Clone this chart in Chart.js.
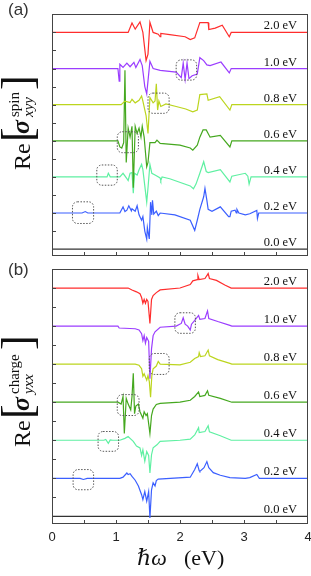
<!DOCTYPE html>
<html><head><meta charset="utf-8">
<script src="https://cdn.jsdelivr.net/npm/chart.js@4.4.0/dist/chart.umd.min.js"></script>
<style>
html,body{margin:0;padding:0;background:#fff;}
body{width:311px;height:576px;position:relative;overflow:hidden;}
canvas{position:absolute;left:0;}
#ca{top:0;}
#cb{top:262px;}
.pl{position:absolute;left:8px;font-family:'Liberation Sans',Arial,sans-serif;font-size:17px;line-height:1;color:#333;}
.yl{position:absolute;left:0;width:110px;height:44px;transform-origin:0 0;transform:rotate(-90deg);font-family:'Liberation Serif','DejaVu Serif',serif;color:#111;}
.yl span{position:absolute;line-height:1;white-space:nowrap;}
.xt{position:absolute;font-family:'Liberation Serif','DejaVu Serif',serif;font-size:22px;line-height:1;color:#111;white-space:nowrap;}
</style></head><body>
<canvas id="ca" width="311" height="262"></canvas>
<canvas id="cb" width="311" height="314"></canvas>
<div class="pl" style="top:1px">(a)</div>
<div class="pl" style="top:261px">(b)</div>
<div class="yl" style="top:170px">
  <span style="left:0;top:10px;font-size:24px">Re</span>
  <span style="left:28px;top:-4.4px;font-size:44px">[</span>
  <span style="left:36px;top:8px;font-size:26px;font-style:italic;font-weight:bold">σ</span>
  <span style="left:53px;top:7.4px;font-size:15px">spin</span>
  <span style="left:53px;top:21.4px;font-size:15px;font-style:italic">xyy</span>
  <span style="left:80px;top:-4.4px;font-size:44px">]</span>
</div>
<div class="yl" style="top:447px">
  <span style="left:0;top:10px;font-size:24px">Re</span>
  <span style="left:28px;top:-4.4px;font-size:44px">[</span>
  <span style="left:36px;top:8px;font-size:26px;font-style:italic;font-weight:bold">σ</span>
  <span style="left:53px;top:7.4px;font-size:15px">charge</span>
  <span style="left:53px;top:21.4px;font-size:15px;font-style:italic">yxx</span>
  <span style="left:97px;top:-4.4px;font-size:44px">]</span>
</div>
<div class="xt" style="left:137px;top:546.5px;font-style:italic">ℏω</div>
<div class="xt" style="left:184px;top:546.5px">(eV)</div>
<script>
// ---------- DATA ----------
const energyLabels = ['2.0 eV','1.0 eV','0.8 eV','0.6 eV','0.4 eV','0.2 eV','0.0 eV'];
const xTickValues = [0,1,2,3,4];

// Panel (a): Re sigma^spin_xyy, deviation from each curve's own baseline
const spin20 = [[0,0],[1.19,0],[1.25,0.26],[1.30,0.09],[1.375,0.29],[1.42,0],[1.47,-0.78],[1.5,-0.6],[1.53,0.28],[1.58,0],[1.66,-0.05],[1.69,-0.12],[1.70,-0.03],[1.84,-0.06],[2.08,-0.12],[2.16,-0.2],[2.23,-0.15],[2.31,0.27],[2.44,0.27],[2.45,0.08],[2.55,0.12],[2.66,0.2],[2.77,-0.12],[2.8,0],[4,0]];
const spin10 = [[0,0],[1.03,0],[1.05,-0.35],[1.06,0.12],[1.11,0.03],[1.17,0.15],[1.22,0.05],[1.28,0.17],[1.31,0.03],[1.375,0.25],[1.41,0.08],[1.45,-0.5],[1.48,-0.7],[1.53,0.2],[1.58,0],[1.69,-0.05],[1.94,-0.1],[2.02,-0.25],[2.05,0.15],[2.08,-0.3],[2.11,0.15],[2.14,-0.28],[2.19,-0.2],[2.27,-0.15],[2.31,0.3],[2.37,0.22],[2.42,0.1],[2.47,0.08],[2.64,0.18],[2.77,-0.12],[2.8,0],[4,0]];
const spin08 = [[0,0],[1.08,0],[1.14,0.1],[1.22,0.06],[1.25,0.15],[1.30,0.05],[1.36,0.12],[1.40,0.24],[1.42,0.1],[1.47,-0.3],[1.5,-0.8],[1.53,0.2],[1.58,0.05],[1.61,0.1],[1.63,0.58],[1.65,-0.15],[1.67,0.1],[1.70,-0.05],[1.78,0.02],[1.94,-0.05],[2.09,-0.12],[2.2,-0.2],[2.27,-0.15],[2.31,0.28],[2.42,0.3],[2.44,0.12],[2.62,0.22],[2.78,-0.15],[2.81,0],[4,0]];
const spin06 = [[0,0],[1.03,0],[1.06,-0.17],[1.09,-0.2],[1.12,-0.05],[1.14,1.95],[1.16,-0.6],[1.19,0.35],[1.22,0.1],[1.25,0.4],[1.27,-1.3],[1.30,0.4],[1.33,0.2],[1.36,0.35],[1.39,0.1],[1.41,0.4],[1.44,0.1],[1.48,-0.72],[1.5,-0.6],[1.53,-0.05],[1.61,-0.05],[1.64,0.02],[1.69,-0.07],[2.0,-0.12],[2.16,-0.2],[2.2,-0.26],[2.27,-0.12],[2.31,0.1],[2.36,0.3],[2.41,0.3],[2.47,0.1],[2.63,0.15],[2.78,-0.17],[2.81,0],[4,0]];
const spin04 = [[0,0],[0.86,0],[0.88,0.1],[0.91,0],[1.06,0],[1.11,0.1],[1.17,-0.05],[1.19,-0.1],[1.22,0.1],[1.25,0.12],[1.27,-0.45],[1.29,0.1],[1.33,0.05],[1.36,0.2],[1.40,0.35],[1.42,0.2],[1.48,-0.7],[1.5,-0.3],[1.53,0.35],[1.56,0.1],[1.61,0.05],[1.69,-0.03],[1.70,-0.1],[1.72,0],[1.84,-0.05],[2.16,-0.25],[2.21,-0.33],[2.25,-0.2],[2.31,0.1],[2.37,0.42],[2.41,0.15],[2.44,0.12],[2.63,0.2],[2.78,-0.14],[2.81,0.02],[3.02,0.1],[3.06,0.02],[3.08,-0.2],[3.11,0],[4,0]];
const spin02 = [[0,0],[0.47,0],[0.52,0.04],[0.56,0],[1.06,0],[1.11,0.17],[1.14,0.04],[1.17,0.08],[1.20,0.2],[1.24,0.06],[1.25,0.12],[1.30,0.05],[1.33,0.2],[1.36,-0.05],[1.40,-0.2],[1.42,-0.1],[1.45,-0.5],[1.48,-0.72],[1.49,-0.4],[1.52,-0.72],[1.54,0.3],[1.56,-0.05],[1.57,0.35],[1.59,-0.03],[1.63,0.05],[1.66,-0.07],[1.69,0],[1.92,-0.05],[2.16,-0.2],[2.23,-0.48],[2.27,-0.2],[2.31,0.1],[2.37,0.45],[2.39,0.68],[2.42,0.35],[2.44,0.1],[2.5,0.05],[2.63,0.17],[2.76,-0.1],[2.78,-0.1],[2.8,0.05],[2.86,0.08],[2.88,0],[2.89,0.1],[2.92,0],[3.02,-0.05],[3.09,-0.02],[3.2,0.07],[3.21,-0.15],[3.23,0],[4,0]];
const spin00 = [[0,0],[4,0]];

// Panel (b): Re sigma^charge_yxx
const charge20 = [[0,0],[1.19,0],[1.25,-0.05],[1.32,-0.1],[1.375,-0.15],[1.40,-0.25],[1.42,-0.4],[1.44,-0.3],[1.46,-0.4],[1.48,-0.3],[1.5,-0.35],[1.53,-0.93],[1.555,-0.3],[1.58,-0.2],[1.63,-0.12],[1.69,-0.05],[2.0,0],[2.16,0.09],[2.2,0.19],[2.27,0.22],[2.28,0.33],[2.30,0.22],[2.39,0.25],[2.44,0.38],[2.46,0.25],[2.57,0.2],[2.7,0.08],[2.8,0],[4,0]];
const charge10 = [[0,0],[1.03,0],[1.05,-0.05],[1.30,-0.07],[1.36,-0.1],[1.40,-0.2],[1.42,-0.38],[1.44,-0.25],[1.46,-0.45],[1.48,-0.3],[1.51,-0.4],[1.53,-1.38],[1.555,-0.6],[1.58,-0.25],[1.61,-0.15],[1.69,-0.03],[1.94,0],[2.02,0.07],[2.05,0.22],[2.08,0.05],[2.12,0],[2.16,-0.1],[2.18,0.05],[2.23,0.15],[2.29,0.28],[2.31,0.18],[2.39,0.2],[2.43,0.4],[2.45,0.2],[2.59,0.12],[2.78,0.02],[2.81,0],[4,0]];
const charge08 = [[0,0],[1.30,0],[1.36,-0.03],[1.40,-0.12],[1.42,-0.32],[1.44,-0.25],[1.48,-0.42],[1.5,-0.3],[1.52,-0.45],[1.54,-0.87],[1.56,-0.3],[1.58,-0.12],[1.63,-0.05],[1.66,0.07],[1.69,0],[2.0,-0.02],[2.16,0.05],[2.23,0.15],[2.29,0.2],[2.30,0.3],[2.32,0.2],[2.39,0.22],[2.44,0.37],[2.46,0.22],[2.59,0.12],[2.78,0.02],[2.81,0],[4,0]];
const charge06 = [[0,0],[1.03,0],[1.08,-0.05],[1.11,0.15],[1.13,-0.82],[1.16,0.1],[1.19,-0.05],[1.23,-0.2],[1.25,0.15],[1.27,0.76],[1.29,-0.3],[1.31,-0.1],[1.35,-0.05],[1.375,-0.25],[1.42,-0.42],[1.44,-0.25],[1.47,-0.35],[1.49,-0.3],[1.53,-0.82],[1.555,-0.35],[1.58,-0.18],[1.63,-0.06],[1.69,-0.03],[2.0,0],[2.16,0.05],[2.23,0.15],[2.29,0.27],[2.31,0.15],[2.39,0.18],[2.43,0.3],[2.45,0.18],[2.63,0.1],[2.81,0],[4,0]];
const charge04 = [[0,0],[0.81,0],[0.84,0.02],[0.88,-0.08],[0.91,0.01],[0.95,0],[1.06,0],[1.14,0.05],[1.19,0.1],[1.22,0.05],[1.27,-0.03],[1.32,-0.15],[1.375,-0.2],[1.40,-0.4],[1.42,-0.25],[1.45,-0.55],[1.48,-0.3],[1.51,-0.4],[1.53,-0.86],[1.555,-0.38],[1.58,-0.2],[1.64,-0.12],[1.69,-0.03],[2.0,0],[2.16,0.03],[2.23,0.14],[2.29,0.33],[2.30,0.2],[2.39,0.23],[2.44,0.38],[2.46,0.22],[2.63,0.12],[2.8,0],[4,0]];
const charge02 = [[0,0],[0.44,0],[0.49,-0.03],[0.55,0],[1.06,0],[1.11,0.03],[1.17,0.14],[1.19,0.1],[1.22,0.12],[1.25,0.05],[1.30,-0.05],[1.35,-0.2],[1.40,-0.43],[1.42,-0.56],[1.45,-0.35],[1.48,-0.6],[1.51,-0.35],[1.53,-1.04],[1.555,-0.3],[1.58,-0.12],[1.61,-0.2],[1.63,-0.06],[1.66,-0.02],[2.16,0.03],[2.23,0.23],[2.27,0.38],[2.30,0.2],[2.31,0.18],[2.375,0.28],[2.42,0.44],[2.45,0.28],[2.52,0.15],[2.63,0.08],[2.78,0.02],[3.02,0],[3.09,0.02],[3.2,0.1],[3.24,0],[4,0]];
const charge00 = [[0,0],[4,0]];

// Dashed highlight boxes [x0, x1, yTop, yBottom] in panel data units
const spinBoxes = [[1.94,2.26,5.24,4.68],[1.50,1.83,4.32,3.76],[1.02,1.35,3.25,2.67],[0.70,1.02,2.33,1.77],[0.32,0.65,1.31,0.71]];
const chargeBoxes = [[1.92,2.24,5.35,4.81],[1.52,1.83,4.28,3.73],[1.02,1.36,3.2,2.65],[0.72,1.04,2.23,1.71],[0.33,0.65,1.23,0.70]];

// ---------- STYLE ----------
const colors = ['#ff2d2d','#9b3dff','#bcd51e','#45a81f','#5ff0a2','#3b5fff','#333333'];

function makeSets(series){
  return series.map((s,i)=>({
    data: s.map(p=>({x:p[0], y:p[1] + (series.length-1-i)})),
    borderColor: colors[i], backgroundColor: colors[i],
    borderWidth: 1.2, pointRadius: 0, fill: false, tension: 0
  }));
}

const deco = {
  id:'deco',
  afterDatasetsDraw(chart, args, opts){
    const {ctx, chartArea:a, scales:{x,y}} = chart;
    ctx.save();
    ctx.strokeStyle = '#444'; ctx.lineWidth = 1;
    const half = v => Math.abs(v*2 - Math.round(v*2)) < 1e-6;
    x.ticks.forEach(t=>{
      if(!half(t.value) || t.value<=x.min || t.value>=x.max) return;
      const px = Math.round(x.getPixelForValue(t.value))+0.5;
      ctx.beginPath(); ctx.moveTo(px, a.bottom); ctx.lineTo(px, a.bottom-4); ctx.stroke();
    });
    y.ticks.forEach(t=>{
      if(!half(t.value) || t.value<=y.min || t.value>=y.max) return;
      const py = Math.round(y.getPixelForValue(t.value))+0.5;
      ctx.beginPath(); ctx.moveTo(a.left, py); ctx.lineTo(a.left+4, py); ctx.stroke();
    });
    ctx.strokeRect(Math.round(a.left)+0.5, Math.round(a.top)+0.5, Math.round(a.right-a.left)-1, Math.round(a.bottom-a.top)-1);
    ctx.strokeStyle = '#555'; ctx.lineWidth = 1; ctx.setLineDash([1.5,1.5]);
    opts.boxes.forEach(b=>{
      const x0 = x.getPixelForValue(b[0]), x1 = x.getPixelForValue(b[1]);
      const y0 = y.getPixelForValue(b[2]), y1 = y.getPixelForValue(b[3]);
      ctx.beginPath(); ctx.roundRect(x0, y0, x1-x0, y1-y0, 5); ctx.stroke();
    });
    ctx.setLineDash([]);
    ctx.fillStyle = '#111'; ctx.font = '12.5px "Liberation Serif", serif';
    ctx.textAlign = 'right'; ctx.textBaseline = 'alphabetic';
    energyLabels.forEach((lab,i)=>{
      ctx.fillText(lab, x.getPixelForValue(3.83), y.getPixelForValue(energyLabels.length-1-i) - 3);
    });
    ctx.restore();
  }
};

function makeChart(id, series, boxes, ymin, ymax, showX, padTop, xHeight){
  return new Chart(document.getElementById(id), {
    type:'line',
    data:{datasets: makeSets(series)},
    options:{
      responsive:false, animation:false, events:[],
      layout:{padding:{top:padTop, right:3, left:0, bottom:0}},
      plugins:{legend:{display:false}, tooltip:{enabled:false}, deco:{boxes}},
      scales:{
        x:{type:'linear', min:0, max:4,
           grid:{display:false, drawTicks:false}, border:{display:false},
           ticks:{display:showX, stepSize:0.5, autoSkip:false, maxRotation:0, padding:6,
                  color:'#222', font:{family:'Liberation Sans', size:13},
                  callback:v=> xTickValues.includes(v) ? String(v) : ''},
           afterFit(s){ s.height = xHeight; s.paddingLeft = 0; s.paddingRight = 0; }},
        y:{type:'linear', min:ymin, max:ymax,
           grid:{display:false, drawTicks:false}, border:{display:false},
           ticks:{display:false, stepSize:0.5},
           afterFit(s){ s.width = 52; }}
      }
    },
    plugins:[deco]
  });
}

makeChart('ca', [spin20,spin10,spin08,spin06,spin04,spin02,spin00], spinBoxes, -0.19, 6.51, false, 14, 6);
makeChart('cb', [charge20,charge10,charge08,charge06,charge04,charge02,charge00], chargeBoxes, -0.2, 6.5, true, 7, 52);
</script>
</body></html>
